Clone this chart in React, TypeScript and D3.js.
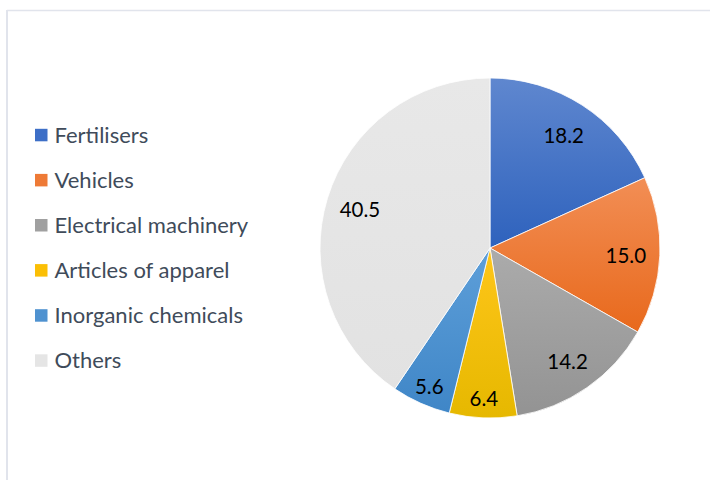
import React from "react";
import * as d3 from "d3";

const categories = ["Fertilisers", "Vehicles", "Electrical machinery", "Articles of apparel", "Inorganic chemicals", "Others"];
const values = [18.2, 15.0, 14.2, 6.4, 5.6, 40.5];
const labels = ["18.2", "15.0", "14.2", "6.4", "5.6", "40.5"];
const colorsTop = ["#5f87cf", "#f28e55", "#ababab", "#ffc61a", "#5e9fd9", "#e8e8e8"];
const colorsBottom = ["#2e62bd", "#e8691c", "#939393", "#e6b800", "#3f86c7", "#e2e2e2"];
const legendColors = ["#3d6fc7", "#ee7a36", "#a0a0a0", "#fbbf05", "#4f92d0", "#e5e5e5"];
const title = "Composition of exports by product type, share (%)";

export default function App() {
  const W = 710, H = 480;
  const cx = 490, cy = 248, r = 170;
  const pie = d3.pie<number>().sort(null).value((d) => d)(values);
  const arc = d3.arc<d3.PieArcDatum<number>>().innerRadius(0).outerRadius(r);
  const labelArc = (d: d3.PieArcDatum<number>) => {
    const f = d.data < 7 ? 0.88 : 0.8;
    return d3.arc<d3.PieArcDatum<number>>().innerRadius(r * f).outerRadius(r * f).centroid(d);
  };
  const legendY = d3.scalePoint<number>().domain(d3.range(categories.length)).range([135, 360.5]);
  const font = "Lato, Calibri, Carlito, sans-serif";
  return (
    <svg width={W} height={H} style={{ position: "absolute", left: 0, top: 0 }}>
      <rect width={W} height={H} fill="#ffffff" />
      <text x={345} y={-3} textAnchor="middle" fontFamily={font} fontSize={18} fill="#3ea3b3">{title}</text>
      <line x1={7} y1={10.5} x2={W} y2={10.5} stroke="#e1e4ec" strokeWidth={1.5} />
      <line x1={7} y1={10} x2={7} y2={H} stroke="#e1e4ec" strokeWidth={2} />
      <defs>
        {categories.map((c, i) => (
          <linearGradient key={c} id={`g${i}`} x1="0" y1="0" x2="0" y2="1">
            <stop offset="0%" stopColor={colorsTop[i]} />
            <stop offset="100%" stopColor={colorsBottom[i]} />
          </linearGradient>
        ))}
      </defs>
      <g transform={`translate(${cx},${cy})`}>
        {pie.map((d, i) => (
          <path key={i} d={arc(d) || ""} fill={`url(#g${i})`} stroke="#ffffff" strokeWidth={0.8} />
        ))}
        {pie.map((d, i) => {
          const [x, y] = labelArc(d);
          return (
            <text key={i} x={x} y={y + 1.5} dy="0.36em" textAnchor="middle" fontFamily={font} fontSize={20.5} fill="#000000">
              {labels[i]}
            </text>
          );
        })}
      </g>
      {categories.map((c, i) => (
        <g key={c} transform={`translate(35,${legendY(i)})`}>
          <rect x={0} y={-6.2} width={12.5} height={12.5} fill={legendColors[i]} />
          <text x={19.5} y={0} dy="0.36em" fontFamily={font} fontSize={22} fill="#404b5a">{c}</text>
        </g>
      ))}
    </svg>
  );
}
